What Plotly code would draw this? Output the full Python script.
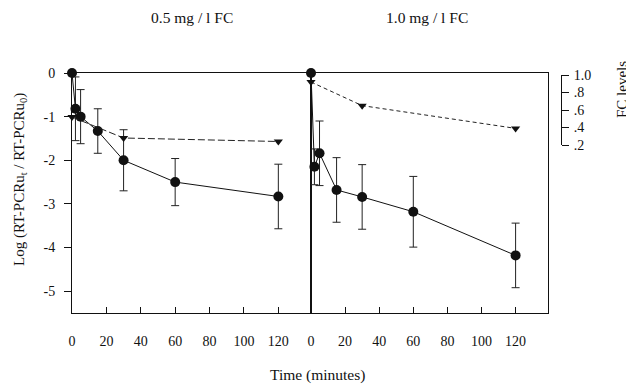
import plotly.graph_objects as go

# ---- data ----
times = [0, 2, 5, 15, 30, 60, 120]
log_low = [0, -0.82, -1.0, -1.33, -2.0, -2.5, -2.83]
err_low = [0, 0.73, 0.62, 0.51, 0.70, 0.54, 0.74]
log_high = [0, -2.15, -1.84, -2.68, -2.84, -3.18, -4.18]
err_high = [0, 0.41, 0.74, 0.74, 0.74, 0.81, 0.74]

fc_times = [0, 30, 120]
fc_low = [0.52, 0.28, 0.24]
fc_high = [0.92, 0.65, 0.39]

x_ticks = [0, 20, 40, 60, 80, 100, 120]
y_ticks = [0, -1, -2, -3, -4, -5]
y_ticktext = ["0", "-1", "-2", "-3", "-4", "-5"]
fc_ticks = [0.2, 0.4, 0.6, 0.8, 1.0]
fc_ticktext = [".2", ".4", ".6", ".8", "1.0"]

FONT = "Liberation Serif"
BLACK = "#111111"

# the page body has an 8px margin; positions below are in window pixels
OFF = 8
W, H = 634 - OFF, 385 - OFF
PL, PR, PT, PB = 72, 561, 73, 313  # plot area in window pixels
PW, PH = PR - PL, PB - PT


def px(xp):
    return (xp - PL) / PW


def py(yp):
    return (PB - yp) / PH


fig = go.Figure()


def circles(x, y, e, xa, ya):
    return go.Scatter(
        x=x, y=y, xaxis=xa, yaxis=ya, mode="lines+markers",
        line=dict(color=BLACK, width=1),
        marker=dict(symbol="circle", size=10, color=BLACK),
        error_y=dict(type="data", array=e, visible=True, color="#222222", thickness=1, width=4),
        cliponaxis=False, showlegend=False,
    )


def triangles(x, y, xa, ya, dash):
    return go.Scatter(
        x=x, y=y, xaxis=xa, yaxis=ya, mode="lines+markers",
        line=dict(color="#222222", width=1, dash=dash),
        marker=dict(symbol="triangle-down", size=8, color=BLACK),
        cliponaxis=False, showlegend=False,
    )


fig.add_trace(triangles(fc_times, fc_low, "x", "y3", "7px,3px"))
fig.add_trace(triangles(fc_times, fc_high, "x2", "y3", "4px,3px"))
fig.add_trace(circles(times, log_low, err_low, "x", "y"))
fig.add_trace(circles(times, log_high, err_high, "x2", "y2"))

xcommon = dict(
    range=[0, 139], tickvals=x_ticks, ticks="inside", ticklen=6, tickcolor=BLACK,
    showline=True, linecolor=BLACK, linewidth=1, mirror=True, showgrid=False, zeroline=False,
    tickfont=dict(family=FONT, size=14, color=BLACK), ticklabelstandoff=15,
)
D1 = px(311)
D2 = px(548)
TXT = dict(xref="paper", yref="paper", showarrow=False, xanchor="center", yanchor="middle")
fig.update_layout(
    width=W, height=H,
    margin=dict(l=PL - OFF, r=W - (PR - OFF), t=PT - OFF, b=H - (PB - OFF), autoexpand=False),
    paper_bgcolor="white", plot_bgcolor="rgba(0,0,0,0)",
    font=dict(family=FONT, size=14, color=BLACK),
    xaxis=dict(domain=[0, D1], anchor="y", **xcommon),
    xaxis2=dict(domain=[D1, D2], anchor="y2", **xcommon),
    yaxis=dict(
        range=[-5.5, 0], tickvals=y_ticks, ticktext=y_ticktext, ticks="outside", ticklen=7,
        tickcolor=BLACK, showline=True, linecolor=BLACK, mirror=True, showgrid=False,
        zeroline=False, anchor="x", ticklabelstandoff=6,
        tickfont=dict(family=FONT, size=14, color=BLACK),
    ),
    yaxis2=dict(
        range=[-5.5, 0], showticklabels=False, ticks="", showline=True, linecolor=BLACK,
        mirror=True, showgrid=False, zeroline=False, anchor="x2",
    ),
    yaxis3=dict(
        domain=[py(145), py(75)], range=[0.2, 1.0],
        tickvals=fc_ticks, ticktext=fc_ticktext, ticks="outside", ticklen=7, tickcolor=BLACK,
        showline=True, linecolor=BLACK, showgrid=False, zeroline=False,
        anchor="free", position=1.0, side="right", ticklabelstandoff=2,
        tickfont=dict(family=FONT, size=14, color=BLACK),
    ),
    annotations=[
        dict(text="0.5 mg / l FC", x=px(192), y=py(18), font=dict(family=FONT, size=15.5, color=BLACK), **TXT),
        dict(text="1.0 mg / l FC", x=px(427), y=py(18), font=dict(family=FONT, size=15.5, color=BLACK), **TXT),
        dict(text="Time (minutes)", x=px(317), y=py(375), font=dict(family=FONT, size=15.5, color=BLACK), **TXT),
        dict(text="Log (RT-PCRu<sub>t</sub> / RT-PCRu<sub>0</sub>)", x=px(20), y=py(180), textangle=-90,
             font=dict(family=FONT, size=15, color=BLACK), **TXT),
        dict(text="FC levels", x=px(622), y=py(90), textangle=-90,
             font=dict(family=FONT, size=15, color=BLACK), **TXT),
    ],
)

fig.write_html("out.html")
